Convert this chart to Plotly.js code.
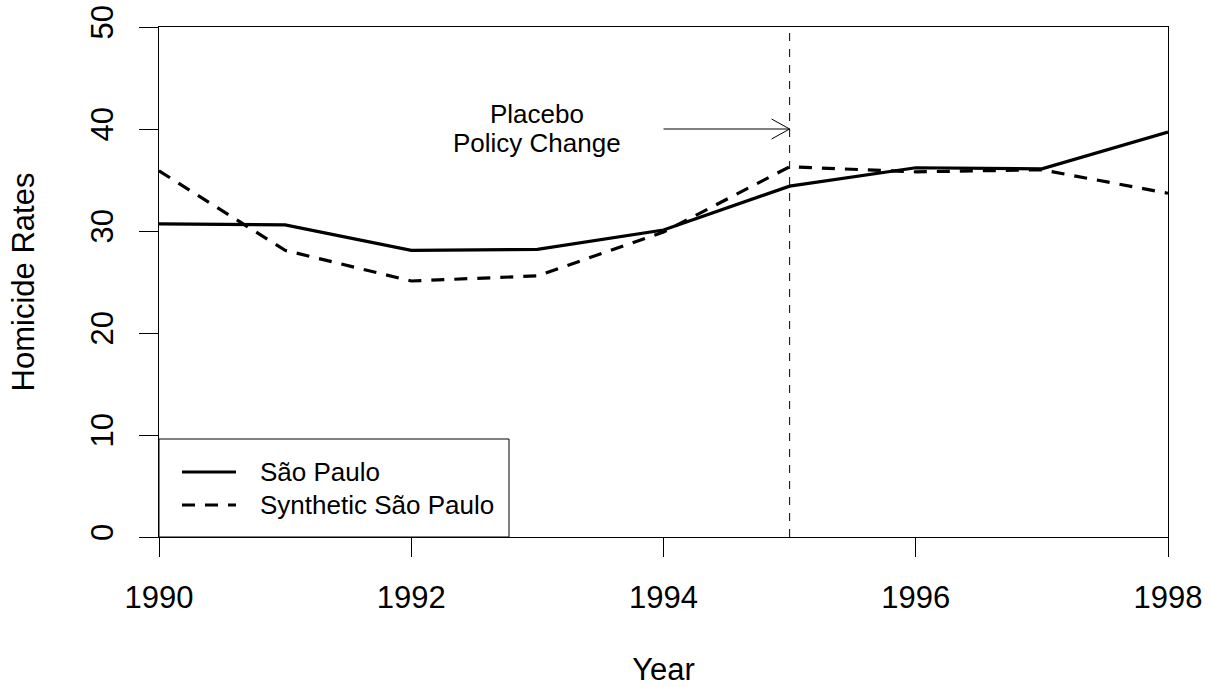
<!DOCTYPE html>
<html>
<head>
<meta charset="utf-8">
<script src="https://cdn.plot.ly/plotly-3.0.1.min.js"></script>
<style>html,body{margin:0;padding:0;background:#fff;}#chart{width:1212px;height:687px;}</style>
</head>
<body>
<div id="chart"></div>
<script>
const years = [1990, 1991, 1992, 1993, 1994, 1995, 1996, 1997, 1998];
const saoPaulo = [30.7, 30.6, 28.1, 28.2, 30.1, 34.4, 36.2, 36.1, 39.7];
const synthetic = [35.9, 28.1, 25.1, 25.6, 29.9, 36.3, 35.8, 36.0, 33.7];
const seriesNames = ["São Paulo", "Synthetic São Paulo"];
const xTicks = [1990, 1992, 1994, 1996, 1998];
const yTicks = [0, 10, 20, 30, 40, 50];
const placeboYear = 1995;

const FONT = "Liberation Sans, Arial, sans-serif";

const traces = [
  {x: years, y: saoPaulo, name: seriesNames[0], type: "scatter", mode: "lines",
   line: {color: "black", width: 3.2}, showlegend: false, hoverinfo: "x+y"},
  {x: years, y: synthetic, name: seriesNames[1], type: "scatter", mode: "lines",
   line: {color: "black", width: 3.2, dash: "13px,10px"}, showlegend: false, hoverinfo: "x+y"}
];

const W = 1009, H = 510;
const px = v => v / W, py = v => v / H;

const layout = {
  width: 1212, height: 687,
  margin: {l: 159, r: 44, t: 27, b: 150},
  paper_bgcolor: "white", plot_bgcolor: "white",
  font: {family: FONT, color: "black"},
  showlegend: false,
  xaxis: {
    range: [1990, 1998], tickvals: xTicks, ticktext: xTicks.map(String),
    ticks: "outside", ticklen: 19, tickwidth: 1, tickcolor: "black",
    ticklabelstandoff: 14,
    showline: true, linecolor: "black", linewidth: 1, mirror: true,
    showgrid: false, zeroline: false,
    tickfont: {size: 31, family: FONT, color: "black"},
    title: {text: "Year", font: {size: 31, family: FONT, color: "black"}, standoff: 49}
  },
  yaxis: {
    range: [0, 50], tickvals: yTicks, ticktext: yTicks.map(String),
    ticks: "outside", ticklen: 19, tickwidth: 1, tickcolor: "black", tickangle: -90,
    ticklabelstandoff: 14,
    showline: true, linecolor: "black", linewidth: 1, mirror: true,
    showgrid: false, zeroline: false,
    tickfont: {size: 31, family: FONT, color: "black"},
    title: {text: "Homicide Rates", font: {size: 31, family: FONT, color: "black"}, standoff: 40}
  },
  shapes: [
    {type: "line", xref: "x", yref: "y", x0: placeboYear, x1: placeboYear, y0: 0, y1: 50,
     line: {color: "black", width: 1, dash: "8px,8px"}},
    {type: "path", xref: "x", yref: "y",
     path: "M1994,40 L1995,40 M1994.857,40.98 L1995,40 L1994.857,39.02",
     line: {color: "black", width: 1}},
    // legend box
    {type: "rect", xref: "paper", yref: "paper", x0: 0, x1: px(350), y0: 0, y1: py(98),
     line: {color: "black", width: 1}, fillcolor: "white", layer: "above"},
    {type: "line", xref: "paper", yref: "paper", x0: px(23), x1: px(77), y0: py(65), y1: py(65),
     line: {color: "black", width: 3.2}},
    {type: "line", xref: "paper", yref: "paper", x0: px(23), x1: px(77), y0: py(32), y1: py(32),
     line: {color: "black", width: 3.2, dash: "13px,10px"}}
  ],
  annotations: [
    {xref: "x", yref: "y", x: 1993, y: 41.45, text: "Placebo", showarrow: false,
     font: {size: 26, family: FONT, color: "black"}, xanchor: "center", yanchor: "middle"},
    {xref: "x", yref: "y", x: 1993, y: 38.65, text: "Policy Change", showarrow: false,
     font: {size: 26, family: FONT, color: "black"}, xanchor: "center", yanchor: "middle"},
    {xref: "paper", yref: "paper", x: px(99), y: py(65), text: seriesNames[0], showarrow: false,
     font: {size: 26, family: FONT, color: "black"}, xanchor: "left", yanchor: "middle"},
    {xref: "paper", yref: "paper", x: px(99), y: py(32), text: seriesNames[1], showarrow: false,
     font: {size: 26, family: FONT, color: "black"}, xanchor: "left", yanchor: "middle"}
  ]
};

Plotly.newPlot("chart", traces, layout, {displayModeBar: false, staticPlot: true});
</script>
</body>
</html>
